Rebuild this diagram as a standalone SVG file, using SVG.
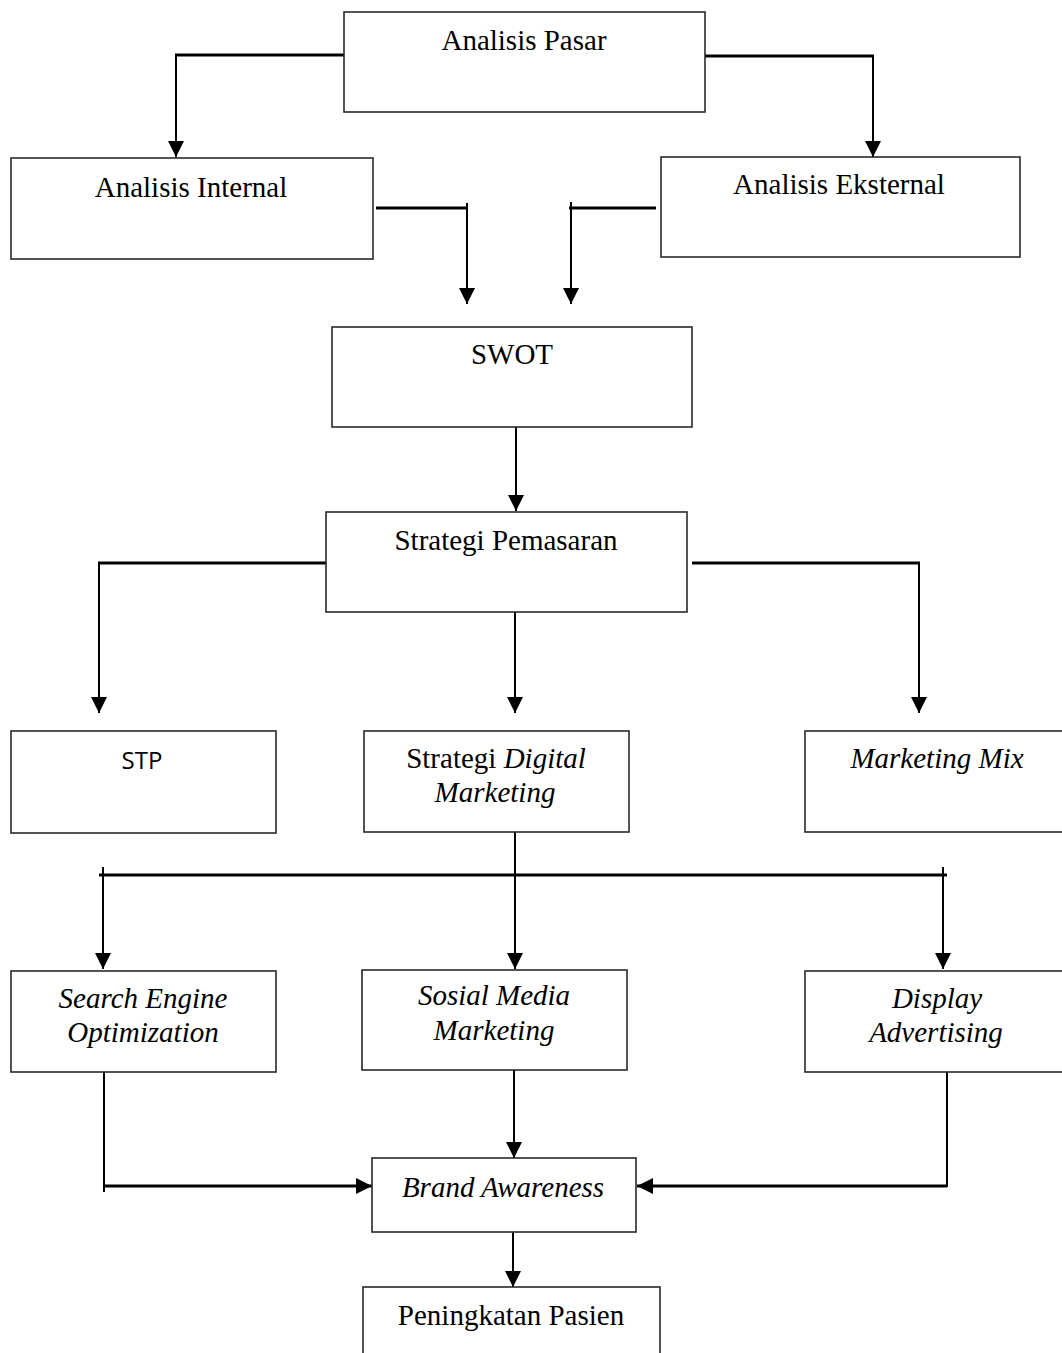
<svg xmlns="http://www.w3.org/2000/svg" width="1062" height="1353" viewBox="0 0 1062 1353">
<defs>
<marker id="arr" markerUnits="userSpaceOnUse" markerWidth="17" markerHeight="17" refX="16" refY="8" orient="auto">
<path d="M0,0 L16,8 L0,16 Z" fill="#000"/>
</marker>
<style>
.box{fill:#fff;stroke:#2a2a2a;stroke-width:1.6}
.t{font-family:"Liberation Serif","Times New Roman",serif;font-size:29px;fill:#000;text-anchor:middle}
.i{font-style:italic}
.s{font-family:"Open Sans","Noto Sans",sans-serif;font-size:24px;fill:#000;text-anchor:middle}
.v{stroke:#000;stroke-width:2;fill:none}
.h{stroke:#000;stroke-width:3;fill:none}
.a{marker-end:url(#arr)}
</style>
</defs>
<rect width="1062" height="1353" fill="#fff"/>

<g id="connectors">
<line class="h" x1="344" y1="55" x2="175" y2="55"/>
<line class="v a" x1="176" y1="54" x2="176" y2="157"/>
<line class="h" x1="705" y1="56" x2="874" y2="56"/>
<line class="v a" x1="873" y1="55" x2="873" y2="157"/>
<line class="h" x1="376" y1="208" x2="466" y2="208"/>
<line class="v a" x1="467" y1="203" x2="467" y2="304"/>
<line class="h" x1="569" y1="208" x2="656" y2="208"/>
<line class="v a" x1="571" y1="202" x2="571" y2="304"/>
<line class="v a" x1="516" y1="427" x2="516" y2="511"/>
<line class="h" x1="326" y1="563" x2="98" y2="563"/>
<line class="v a" x1="99" y1="562" x2="99" y2="713"/>
<line class="h" x1="692" y1="563" x2="920" y2="563"/>
<line class="v a" x1="919" y1="562" x2="919" y2="713"/>
<line class="v a" x1="515" y1="612" x2="515" y2="713"/>
<line class="v" x1="515" y1="832" x2="515" y2="875"/>
<line class="h" x1="99" y1="875" x2="947" y2="875"/>
<line class="v a" x1="103" y1="867" x2="103" y2="969"/>
<line class="v a" x1="515" y1="875" x2="515" y2="969"/>
<line class="v a" x1="943" y1="867" x2="943" y2="969"/>
<line class="v" x1="104" y1="1072" x2="104" y2="1192"/>
<line class="h a" x1="104" y1="1186" x2="372" y2="1186"/>
<line class="v" x1="947" y1="1068" x2="947" y2="1187"/>
<line class="h a" x1="947" y1="1186" x2="637" y2="1186"/>
<line class="v a" x1="514" y1="1070" x2="514" y2="1158"/>
<line class="v a" x1="513" y1="1232" x2="513" y2="1287"/>
</g>

<g id="analisis-pasar"><rect class="box" x="344" y="12" width="361" height="100"/><text class="t" x="524" y="50">Analisis Pasar</text></g>
<g id="analisis-internal"><rect class="box" x="11" y="158" width="362" height="101"/><text class="t" x="191" y="197">Analisis Internal</text></g>
<g id="analisis-eksternal"><rect class="box" x="661" y="157" width="359" height="100"/><text class="t" x="839" y="194">Analisis Eksternal</text></g>
<g id="swot"><rect class="box" x="332" y="327" width="360" height="100"/><text class="t" x="512" y="364">SWOT</text></g>
<g id="strategi-pemasaran"><rect class="box" x="326" y="512" width="361" height="100"/><text class="t" x="506" y="550">Strategi Pemasaran</text></g>
<g id="stp"><rect class="box" x="11" y="731" width="265" height="102"/><text class="s" x="142" y="769">STP</text></g>
<g id="strategi-digital"><rect class="box" x="364" y="731" width="265" height="101"/><text class="t" x="496" y="768">Strategi <tspan class="i">Digital</tspan></text><text class="t i" x="495" y="802">Marketing</text></g>
<g id="marketing-mix"><rect class="box" x="805" y="731" width="270" height="101"/><text class="t i" x="937" y="768">Marketing Mix</text></g>
<g id="seo"><rect class="box" x="11" y="971" width="265" height="101"/><text class="t i" x="143" y="1008">Search Engine</text><text class="t i" x="143" y="1042">Optimization</text></g>
<g id="sosial-media"><rect class="box" x="362" y="970" width="265" height="100"/><text class="t i" x="494" y="1005">Sosial Media</text><text class="t i" x="494" y="1040">Marketing</text></g>
<g id="display"><rect class="box" x="805" y="971" width="270" height="101"/><text class="t i" x="937" y="1008">Display</text><text class="t i" x="936" y="1042">Advertising</text></g>
<g id="brand-awareness"><rect class="box" x="372" y="1158" width="264" height="74"/><text class="t i" x="503" y="1197">Brand Awareness</text></g>
<g id="peningkatan-pasien"><rect class="box" x="363" y="1287" width="297" height="80"/><text class="t" x="511" y="1325">Peningkatan Pasien</text></g>
</svg>
